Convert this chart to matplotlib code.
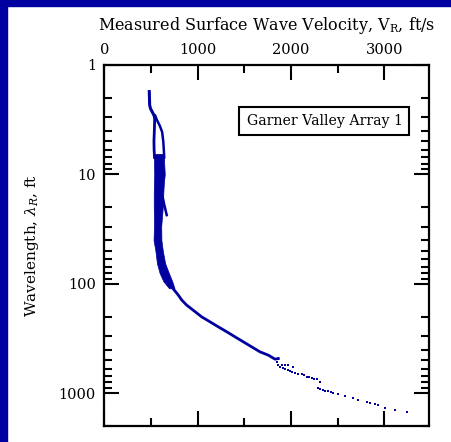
import matplotlib.pyplot as plt
import matplotlib.ticker as ticker
from matplotlib.patches import Rectangle

plt.rcParams['font.family'] = ['DejaVu Serif']
plt.rcParams['mathtext.fontset'] = 'dejavuserif'

navy = '#0000A0'

# top strip (ft/s, ft)
vel_top = [482, 484, 486, 495, 510, 525, 540]
lam_top = [1.75, 2.0, 2.32, 2.5, 2.65, 2.8, 3.0]

# two branches between 3 and 7 ft
vel_br1 = [540, 538, 535, 532, 534, 538]
lam_br1 = [3.0, 3.6, 4.3, 5.0, 6.0, 7.0]
vel_br2 = [545, 565, 595, 620, 632, 638, 642]
lam_br2 = [2.9, 3.2, 3.6, 4.1, 5.0, 6.0, 7.0]

# dense band from 6.5 to 110 ft
lam_band = [6.5, 8, 10, 12, 15, 20, 25, 30, 40, 50, 65, 80, 95, 110]
vel_band_lo = [532, 532, 535, 532, 530, 530, 532, 532, 528, 548, 564, 593, 633, 693]
vel_band_hi = [640, 642, 648, 638, 632, 627, 617, 610, 612, 627, 652, 692, 728, 752]

# short branch near 20 ft
vel_branch = [625, 640, 655, 669]
lam_branch = [16, 18.5, 21, 23.6]

# main curve below 100 ft
vel_main = [700, 722, 793, 830, 883, 954, 1044, 1133, 1222, 1312, 1401, 1490, 1580, 1669, 1758, 1830, 1865]
lam_main = [100, 107, 127, 141, 157, 175, 201, 223, 248, 275, 306, 340, 378, 420, 450, 490, 483]

# hook and lower dotted branch
vel_hook = [1865, 1848, 1860, 1883, 1910, 1937, 1965, 1990, 2015, 2044, 2080, 2116, 2140, 2169, 2195, 2223, 2250, 2277, 2312]
lam_hook = [483, 520, 556, 576, 590, 604, 617, 630, 642, 654, 663, 672, 690, 711, 720, 731, 738, 746, 790]

# upper dotted branch
vel_dots = [1901, 1935, 1969, 2019]
lam_dots = [556, 550, 556, 580]

# sparse tail
vel_tail = [2290, 2310, 2344, 2370, 2398, 2425, 2451, 2505, 2580, 2662, 2719, 2812, 2848, 2901, 2933, 3008, 3116, 3241]
lam_tail = [896, 918, 940, 950, 961, 978, 995, 1023, 1067, 1106, 1161, 1211, 1229, 1264, 1291, 1366, 1433, 1486]

fig = plt.figure(figsize=(4.52, 4.42), dpi=100, facecolor='white')
fig.patches.append(Rectangle((0, 0), 7 / 452, 1, transform=fig.transFigure, color=navy, zorder=0))
fig.patches.append(Rectangle((0, 1 - 6 / 442), 1, 6 / 442, transform=fig.transFigure, color=navy, zorder=0))

ax = fig.add_axes([104.3 / 452, 1 - 426 / 442, 324.7 / 452, 361 / 442])

ax.plot(vel_top, lam_top, color=navy, lw=2.2)
ax.plot(vel_br1, lam_br1, color=navy, lw=2.0)
ax.plot(vel_br2, lam_br2, color=navy, lw=1.8)
ax.fill_betweenx(lam_band, vel_band_lo, vel_band_hi, color=navy, lw=0.5, ec=navy)
ax.plot(vel_branch, lam_branch, color=navy, lw=1.8)
ax.plot(vel_main, lam_main, color=navy, lw=2.0)
ax.plot(vel_hook, lam_hook, color=navy, lw=0, marker='s', ms=1.9, mew=0)
ax.plot(vel_dots, lam_dots, color=navy, lw=0, marker='s', ms=1.9, mew=0)
ax.plot(vel_tail, lam_tail, color=navy, lw=0, marker='s', ms=1.9, mew=0)

ax.set_yscale('log')
ax.set_xlim(0, 3480)
ax.set_ylim(2000, 1)

ax.xaxis.set_major_locator(ticker.MultipleLocator(1000))
ax.xaxis.set_minor_locator(ticker.MultipleLocator(500))
ax.yaxis.set_major_locator(ticker.LogLocator(base=10))
ax.yaxis.set_minor_locator(ticker.LogLocator(base=10, subs=range(2, 10)))
ax.yaxis.set_major_formatter(ticker.FuncFormatter(lambda v, p: '%d' % v))
ax.yaxis.set_minor_formatter(ticker.NullFormatter())

ax.tick_params(which='both', direction='in', top=True, bottom=True, left=True, right=True,
               labeltop=True, labelbottom=False, width=1.5, labelsize=10.5, pad=6)
ax.tick_params(which='major', length=11)
ax.tick_params(which='minor', length=5.5)
for s in ax.spines.values():
    s.set_linewidth(1.6)

ax.xaxis.set_label_position('top')
ax.set_xlabel(r'Measured Surface Wave Velocity, $\mathrm{V_R}$, ft/s', fontsize=11.5, labelpad=9)
ax.set_ylabel(r'Wavelength, $\lambda_R$, ft', fontsize=11, labelpad=13)

ax.text(0.678, 0.846, 'Garner Valley Array 1', transform=ax.transAxes, ha='center', va='center',
        fontsize=10.2, bbox=dict(boxstyle='square,pad=0.5', fc='white', ec='black', lw=1.5))

fig.savefig('out.png', dpi=100, facecolor='white')
